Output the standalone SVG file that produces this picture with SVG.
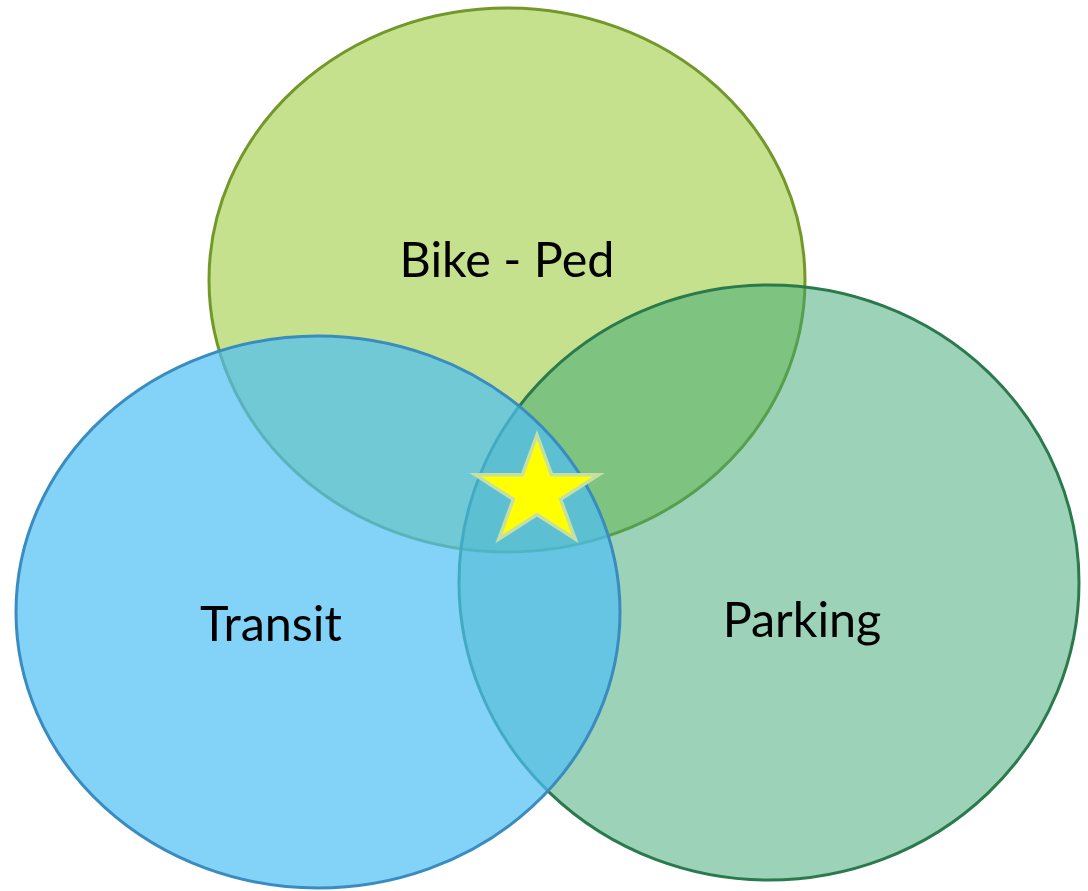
<svg xmlns="http://www.w3.org/2000/svg" width="1088" height="891" viewBox="0 0 1088 891">
<style>
.lbl{font-family:Lato,"Open Sans","Liberation Sans",sans-serif;font-size:48.5px;fill:#000;text-anchor:middle}
.ell{stroke-width:3}
</style>
<rect width="1088" height="891" fill="#ffffff"/>
<g id="bike-ped">
<ellipse class="ell" cx="507" cy="280" rx="298" ry="272" fill="#c5e18d" stroke="#72982a"/>
</g>
<g id="parking">
<ellipse class="ell" cx="769" cy="582.5" rx="310" ry="297.5" fill="#37a571" fill-opacity="0.5" stroke="#2b7a4e"/>
</g>
<g id="transit">
<ellipse class="ell" cx="318" cy="612" rx="302" ry="276" fill="#4fbff5" fill-opacity="0.7" stroke="#3a8cc0"/>
</g>
<g id="labels">
<text class="lbl" x="507" y="277">Bike - Ped</text>
<text class="lbl" x="271" y="641">Transit</text>
<text class="lbl" x="802" y="637">Parking</text>
</g>
<g id="star">
<polygon points="537,435 551.6,474.7 598.8,474.7 560.6,499.3 575.2,539 537,514.5 498.8,539 513.4,499.3 475.2,474.7 522.4,474.7" fill="#ffff00" stroke="#c5e0a0" stroke-width="3.5" stroke-linejoin="miter"/>
</g>
<g id="connectors"/>
</svg>
